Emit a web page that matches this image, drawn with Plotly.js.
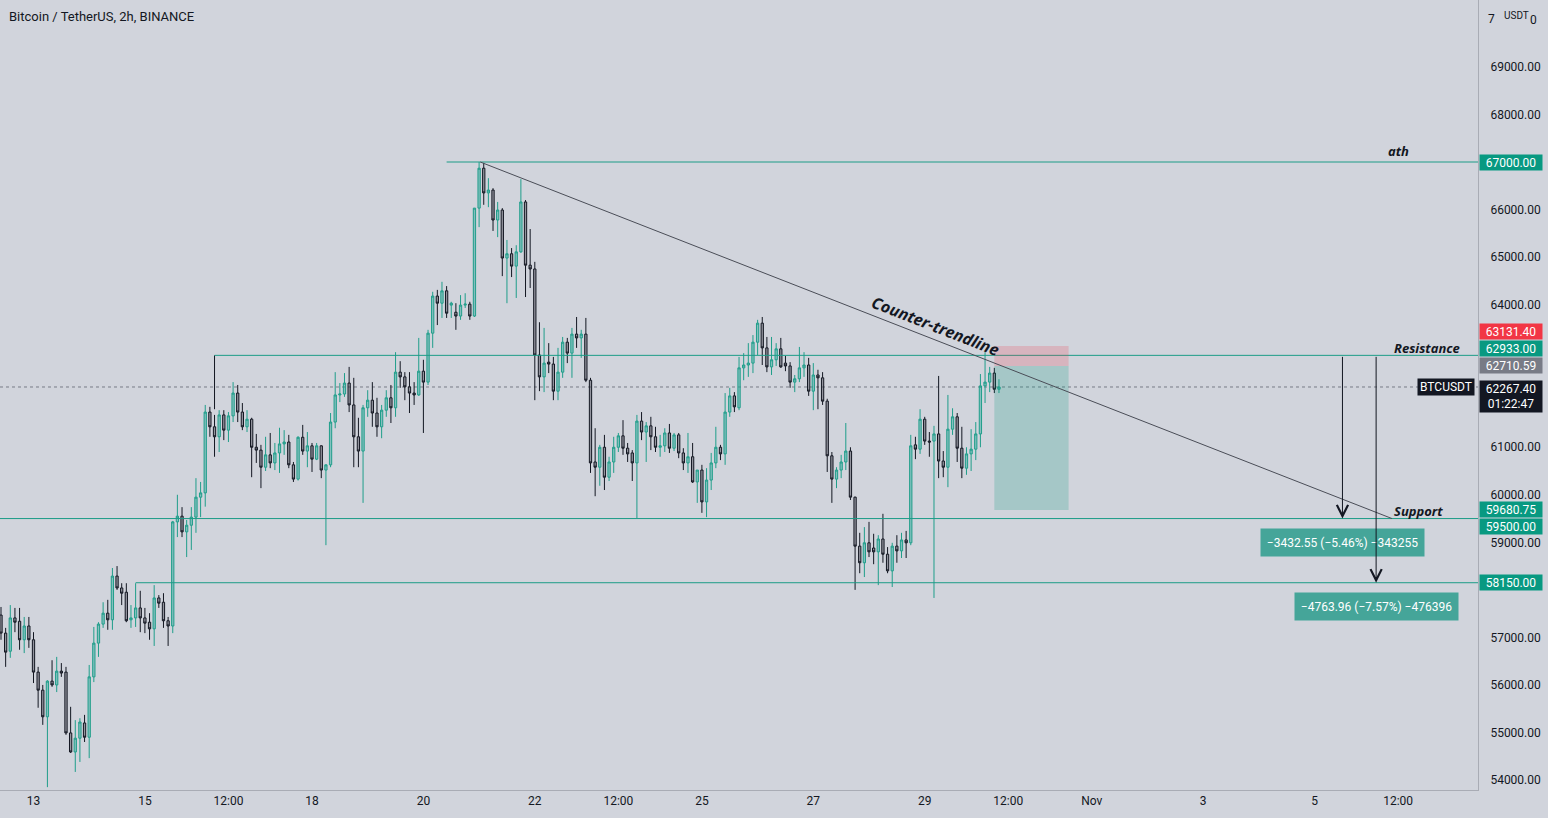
<!DOCTYPE html>
<html>
<head>
<meta charset="utf-8">
<script src="https://cdn.plot.ly/plotly-3.0.1.min.js"></script>
<style>
  html, body { margin: 0; padding: 0; background: #d1d4dc; }
  #chart { width: 1548px; height: 818px; }
</style>
</head>
<body>
<div id="chart"></div>
<script>
// ---- Data (BTCUSDT 2h candles) ----
const firstCandle = '2021-10-12T10:00:00Z';   // first 2h candle
const open  = [57470,57090,56710,57410,57340,56950,57240,56950,56270,55890,55330,56080,56000,56290,56270,54990,54590,54880,55200,54900,56170,56880,57280,57510,57370,58290,58040,57950,57370,57410,57620,57410,57320,57180,57830,57740,57350,57240,59430,59550,59220,59360,59530,59950,60040,61740,61430,61220,61680,61360,61660,62140,61740,61430,61590,61000,60940,60580,60840,60670,60880,61070,61110,60630,60330,61210,60920,61030,60750,61030,60520,60630,61530,62100,62120,62350,61890,61220,60920,61830,61990,61720,61430,61780,62040,61830,62580,62480,62270,62140,62100,62600,62370,63400,64180,64030,64290,63990,63840,63760,63990,64010,63760,66030,66870,66350,66410,65780,65990,64980,65070,64810,65110,66160,64830,64750,62940,62480,62790,62750,62180,62580,63210,62980,63380,63300,63380,62410,60690,60580,61000,60370,60690,61000,61240,60980,60880,60670,61550,61320,61450,61220,61000,61030,61300,60980,61260,60880,60670,60800,60270,60520,59850,60310,60670,61000,60860,61740,62080,61830,62670,62730,62770,63210,63610,63090,62690,62840,63070,62770,62710,62370,62440,62670,62730,62180,62520,62460,61970,60820,60330,60520,60690,60920,59950,58920,58570,58990,58880,58800,59070,58750,58400,58920,58820,59050,58990,61050,60960,61590,61130,61130,61280,60710,60580,61380,61640,60980,60560,60860,60960,61280,62290,62370,62560,62220];
const high  = [57640,57200,57680,57620,57620,57430,57430,57110,56380,56000,56100,56520,56590,56460,56380,55540,55260,55300,55370,56420,57220,57320,57740,57790,58460,58500,58140,58140,57680,58140,57980,57620,57510,58100,57890,57930,57430,59450,60000,59740,59470,59740,60350,60270,61890,61850,61680,61780,61780,61740,62370,62310,61930,61780,61620,61280,61050,61220,61300,61090,61410,61360,61260,60690,61230,61470,61320,61090,61090,61040,60640,61720,62580,62350,62560,62690,62460,61620,61890,62200,62370,62040,61890,62200,62310,63000,62810,62580,62580,62370,63300,62840,63470,64270,64310,64480,64390,64060,64030,64200,64240,64060,66030,67000,66980,66660,66450,66160,66030,65360,65190,65250,66640,66200,65590,64900,63630,63510,63190,62900,63090,63320,63300,63510,63740,63470,63720,62460,61400,61050,61260,60800,61220,61300,61570,61090,60940,61680,61740,61530,61640,61430,61260,61400,61490,61300,61300,60980,61300,61090,60520,60630,60560,60880,61430,61050,62140,62250,62160,62900,62980,63190,63360,63680,63740,63320,63320,63190,63300,62920,62790,62520,63110,63000,62880,62770,62630,62580,62020,60900,60580,60840,61510,61000,59960,59200,59320,59430,59180,59150,59600,58900,58990,59150,59200,59240,61260,61220,61800,61640,61320,61450,62500,60920,62100,61820,61720,61430,61000,61380,61530,62540,63000,62690,62670,62430];
const low   = [56950,56380,56570,57110,56740,56670,56780,56040,55520,55160,53850,55960,55850,56170,54950,54570,54170,54380,54800,54460,56060,56590,57200,57160,57160,58000,57680,57320,57200,57220,57110,57090,56950,56820,57620,57200,56820,57090,59110,59110,58690,58840,59200,59530,59750,61220,60800,60900,61150,61110,61530,61530,61360,61320,60370,60670,60140,60500,60560,60520,60460,60840,60560,60270,60300,60840,60580,60480,60730,60350,58940,60580,61400,61950,62060,61740,60580,60580,59830,61640,61430,61220,61190,61640,61510,61640,62250,61990,61720,61890,62080,61300,62310,63090,63570,63720,63720,63720,63470,63680,63930,63680,63740,65630,66100,66050,65550,65420,64600,64030,64580,64140,65090,64160,64350,61990,62180,62160,62560,61990,61990,62460,62770,62460,63090,62880,62370,60460,59970,60190,60100,60290,60460,60900,60840,60690,60290,59510,61150,60690,60940,60900,60800,60900,60880,60920,60770,60520,60460,60250,59830,59620,59530,60100,60560,60730,60630,61640,61740,61780,62410,62480,62560,62940,62730,62580,62520,62710,62670,62600,62250,62160,62370,62480,62080,61780,61800,61890,60480,59830,60140,60350,60520,59890,58000,58350,58270,58690,58540,58100,58570,58350,58060,58570,58670,58670,58940,60750,60860,61050,60800,57830,60350,60370,60160,61260,60690,60350,60420,60500,60730,61000,61930,62160,62140,62140];
const close = [57090,56690,57410,57320,56950,57240,56950,56270,55890,55330,56080,56000,56290,56250,54990,54590,54880,55220,54900,56170,56880,57280,57510,57370,58290,58040,57930,57350,57410,57620,57410,57300,57180,57830,57720,57350,57240,59430,59550,59220,59360,59530,59950,60040,61740,61430,61220,61680,61360,61660,62140,61740,61430,61590,61000,60940,60580,60840,60670,60880,61070,61110,60630,60330,61210,60920,61030,60750,61030,60520,60630,61530,62100,62120,62350,61890,61220,60920,61830,61990,61720,61430,61780,62040,61830,62580,62480,62270,62140,62100,62600,62370,63400,64180,64030,64290,63820,64030,63760,63990,64010,63760,66030,66870,66350,66410,65780,65990,64980,65070,64810,65110,66160,64830,64750,62940,62480,62770,62750,62180,62580,63210,62980,63380,63300,63380,62410,60670,60580,61000,60370,60690,61000,61240,60980,60860,60670,61550,61320,61450,61220,61000,61030,61300,60980,61260,60880,60670,60800,60270,60520,59850,60310,60670,61000,60860,61740,62080,61850,62670,62730,62770,63210,63610,63090,62690,62840,63070,62690,62710,62370,62440,62670,62730,62180,62520,62460,61970,60820,60330,60520,60690,60920,59950,58920,58570,58990,58800,58800,59070,58750,58400,58920,58820,59050,58990,61030,60960,61590,61130,61110,61280,60710,60580,61380,61640,60980,60560,60860,60960,61280,62290,62370,62560,62220,62267.4];

// drawn levels and position tool values
const athLevel = 67000, resistanceLevel = 62933, supportLevel = 59500, lowerSupport = 58150;
const stopPrice = 63131.40, entryPrice = 62710.59, targetPrice = 59680.75, lastPrice = 62267.40;
const countdown = '01:22:47';
const measureTexts = ['\u22123432.55 (\u22125.46%) \u2212343255', '\u22124763.96 (\u22127.57%) \u2212476396'];
const xTickVals = ['2021-10-13','2021-10-15','2021-10-16 12:00','2021-10-18','2021-10-20','2021-10-22','2021-10-23 12:00','2021-10-25','2021-10-27','2021-10-29','2021-10-30 12:00','2021-11-01','2021-11-03','2021-11-05','2021-11-06 12:00'];
const xTickText = ['13','15','12:00','18','20','22','12:00','25','27','29','12:00','Nov','3','5','12:00'];
// price scale labels that are not hidden behind the price tags
const yTickVals = [54000,55000,56000,57000,59000,60000,61000,64000,65000,66000,68000,69000];
const topScaleValue = 70000;   // shown as "7 USDT 0" (the unit badge covers its middle)

// timestamps of the 2h candles
const times = [];
const t0 = Date.parse(firstCandle);
for (let i = 0; i < open.length; i++) {
  times.push(new Date(t0 + i * 7200000).toISOString().slice(0, 16).replace('T', ' '));
}

// ---- styling ----
const BG = '#d1d4dc';
const TEAL = '#1c9c87';
const DARK = '#131722';
const FONT = 'Roboto, "Open Sans", sans-serif';
const xStart = '2021-10-12 09:34', xEnd = '2021-11-07 22:24';

const trace = {
  type: 'candlestick',
  x: times, open: open, high: high, low: low, close: close,
  increasing: { line: { color: '#1f9e8a', width: 1 }, fillcolor: 'rgba(38,166,154,0.45)' },
  decreasing: { line: { color: DARK, width: 1 }, fillcolor: 'rgba(70,72,82,0.45)' },
  whiskerwidth: 0,
  hoverinfo: 'skip',
  showlegend: false
};

const shapes = [
  { type: 'line', xref: 'x', yref: 'y', x0: xStart, x1: xEnd, y0: lastPrice, y1: lastPrice, line: { color: '#787b86', width: 1, dash: 'dot' }, layer: 'below' },
  { type: 'line', xref: 'x', yref: 'y', x0: '2021-10-20 10:00', x1: xEnd, y0: athLevel, y1: athLevel, line: { color: TEAL, width: 1 } },
  { type: 'line', xref: 'x', yref: 'y', x0: '2021-10-16 06:00', x1: '2021-10-16 06:00', y0: 61800, y1: resistanceLevel, line: { color: DARK, width: 1 } },
  { type: 'line', xref: 'x', yref: 'y', x0: '2021-10-16 06:00', x1: xEnd, y0: resistanceLevel, y1: resistanceLevel, line: { color: TEAL, width: 1 } },
  { type: 'line', xref: 'x', yref: 'y', x0: xStart, x1: xEnd, y0: supportLevel, y1: supportLevel, line: { color: TEAL, width: 1 } },
  { type: 'line', xref: 'x', yref: 'y', x0: '2021-10-14 20:00', x1: xEnd, y0: lowerSupport, y1: lowerSupport, line: { color: TEAL, width: 1 } },
  { type: 'rect', xref: 'x', yref: 'y', x0: '2021-10-30 06:00', x1: '2021-10-31 14:00', y0: entryPrice, y1: stopPrice, fillcolor: 'rgba(242,54,69,0.2)', line: { width: 0 } },
  { type: 'rect', xref: 'x', yref: 'y', x0: '2021-10-30 06:00', x1: '2021-10-31 14:00', y0: targetPrice, y1: entryPrice, fillcolor: 'rgba(8,153,129,0.22)', line: { width: 0 } },
  { type: 'line', xref: 'x', yref: 'y', x0: '2021-10-21 00:30', y0: athLevel, x1: '2021-11-06 09:20', y1: supportLevel, line: { color: '#4a4d57', width: 1 } }
];

function tag(price, color, yshift) {
  return { xref: 'paper', yref: 'y', x: 1, y: price, xanchor: 'left', yanchor: 'middle', xshift: 1, yshift: yshift,
    text: price.toFixed(2), showarrow: false, bgcolor: color, width: 62, height: 15, borderpad: 0,
    font: { family: FONT, size: 12, color: '#ffffff' } };
}

const topDigits = topScaleValue.toFixed(2);
const annotations = [
  { xref: 'paper', yref: 'paper', x: 0, y: 1, xanchor: 'left', yanchor: 'middle', xshift: 7, yshift: -16,
    text: 'Bitcoin / TetherUS, 2h, BINANCE', showarrow: false, font: { family: FONT, size: 13, color: DARK } },
  // top price-scale label partly covered by the unit badge
  { xref: 'paper', yref: 'y', x: 1, y: topScaleValue, xanchor: 'left', yanchor: 'middle', xshift: 8, yshift: 0,
    text: topDigits.charAt(0), showarrow: false, font: { family: FONT, size: 12, color: DARK } },
  { xref: 'paper', yref: 'y', x: 1, y: topScaleValue, xanchor: 'left', yanchor: 'middle', xshift: 24, yshift: 4,
    text: 'USDT', showarrow: false, font: { family: FONT, size: 10, color: DARK } },
  { xref: 'paper', yref: 'y', x: 1, y: topScaleValue, xanchor: 'left', yanchor: 'middle', xshift: 50, yshift: -1,
    text: topDigits.charAt(topDigits.length - 1), showarrow: false, font: { family: FONT, size: 12, color: DARK } },
  // text labels
  { xref: 'x', yref: 'y', x: '2021-11-06 12:00', y: athLevel, yanchor: 'bottom', yshift: 0, text: '<b><i>ath</i></b>', showarrow: false,
    font: { family: '"Open Sans", sans-serif', size: 13, color: DARK } },
  { xref: 'x', yref: 'y', x: '2021-11-07 00:30', y: resistanceLevel, yanchor: 'bottom', yshift: -4, text: '<b><i>Resistance</i></b>', showarrow: false,
    font: { family: '"Open Sans", sans-serif', size: 13, color: DARK } },
  { xref: 'x', yref: 'y', x: '2021-11-06 20:40', y: supportLevel, yanchor: 'bottom', yshift: -3, text: '<b><i>Support</i></b>', showarrow: false,
    font: { family: '"Open Sans", sans-serif', size: 13, color: DARK } },
  { xref: 'x', yref: 'y', x: '2021-10-29 04:40', y: 63560, text: '<b><i>Counter-trendline</i></b>', showarrow: false, textangle: 21.4,
    font: { family: '"Open Sans", sans-serif', size: 16, color: DARK } },
  // measurement labels
  { xref: 'x', yref: 'y', x: '2021-11-05 12:00', y: supportLevel, yanchor: 'top', yshift: -9, text: measureTexts[0], showarrow: false,
    bgcolor: '#45a599', width: 161, height: 25, font: { family: FONT, size: 12, color: '#ffffff' } },
  { xref: 'x', yref: 'y', x: '2021-11-06 02:30', y: lowerSupport, yanchor: 'top', yshift: -9, text: measureTexts[1], showarrow: false,
    bgcolor: '#45a599', width: 161, height: 25, font: { family: FONT, size: 12, color: '#ffffff' } },
  // arrows
  { xref: 'x', yref: 'y', axref: 'x', ayref: 'y', x: '2021-11-05 12:00', y: supportLevel, ax: '2021-11-05 12:00', ay: resistanceLevel,
    text: '', showarrow: true, arrowhead: 5, arrowsize: 2.2, arrowwidth: 1, arrowcolor: DARK, standoff: 0 },
  { xref: 'x', yref: 'y', axref: 'x', ayref: 'y', x: '2021-11-06 02:30', y: lowerSupport, ax: '2021-11-06 02:30', ay: resistanceLevel,
    text: '', showarrow: true, arrowhead: 5, arrowsize: 2.2, arrowwidth: 1, arrowcolor: DARK, standoff: 0 },
  // price tags on the scale
  tag(athLevel, '#089981', 0),
  tag(stopPrice, '#f23645', 14),
  tag(resistanceLevel, '#089981', 7),
  tag(entryPrice, '#787b86', 0),
  tag(targetPrice, '#089981', 0),
  tag(supportLevel, '#089981', -8),
  tag(lowerSupport, '#089981', 0),
  { xref: 'paper', yref: 'y', x: 1, y: lastPrice, xanchor: 'left', yanchor: 'top', xshift: 1, yshift: 7,
    text: lastPrice.toFixed(2) + '<br>' + countdown, showarrow: false, bgcolor: DARK, width: 62, height: 31, borderpad: 0,
    font: { family: FONT, size: 12, color: '#ffffff' } },
  { xref: 'paper', yref: 'y', x: 1, y: lastPrice, xanchor: 'right', yanchor: 'middle', xshift: -3, yshift: 0,
    text: 'BTCUSDT', showarrow: false, bgcolor: DARK, width: 56, height: 16, borderpad: 0,
    font: { family: FONT, size: 12, color: '#ffffff' } }
];

const layout = {
  width: 1548, height: 818,
  margin: { l: 0, r: 70, t: 0, b: 28, pad: 0 },
  paper_bgcolor: BG, plot_bgcolor: BG,
  showlegend: false,
  xaxis: {
    type: 'date', range: [xStart, xEnd], rangeslider: { visible: false },
    tickvals: xTickVals, ticktext: xTickText, tickangle: 0,
    showgrid: false, zeroline: false, showline: true, linecolor: '#a9acb5', linewidth: 1, mirror: false,
    ticks: '', tickfont: { family: FONT, size: 12, color: DARK }, fixedrange: true
  },
  yaxis: {
    side: 'right', range: [53790, 70408], tickvals: yTickVals, tickformat: '.2f',
    showgrid: false, zeroline: false, showline: true, linecolor: '#a9acb5', linewidth: 1,
    ticks: '', ticklabelstandoff: 9, tickfont: { family: FONT, size: 12, color: DARK }, fixedrange: true
  },
  shapes: shapes,
  annotations: annotations,
  hovermode: false
};

Plotly.newPlot('chart', [trace], layout, { displayModeBar: false, staticPlot: true });
</script>
</body>
</html>
